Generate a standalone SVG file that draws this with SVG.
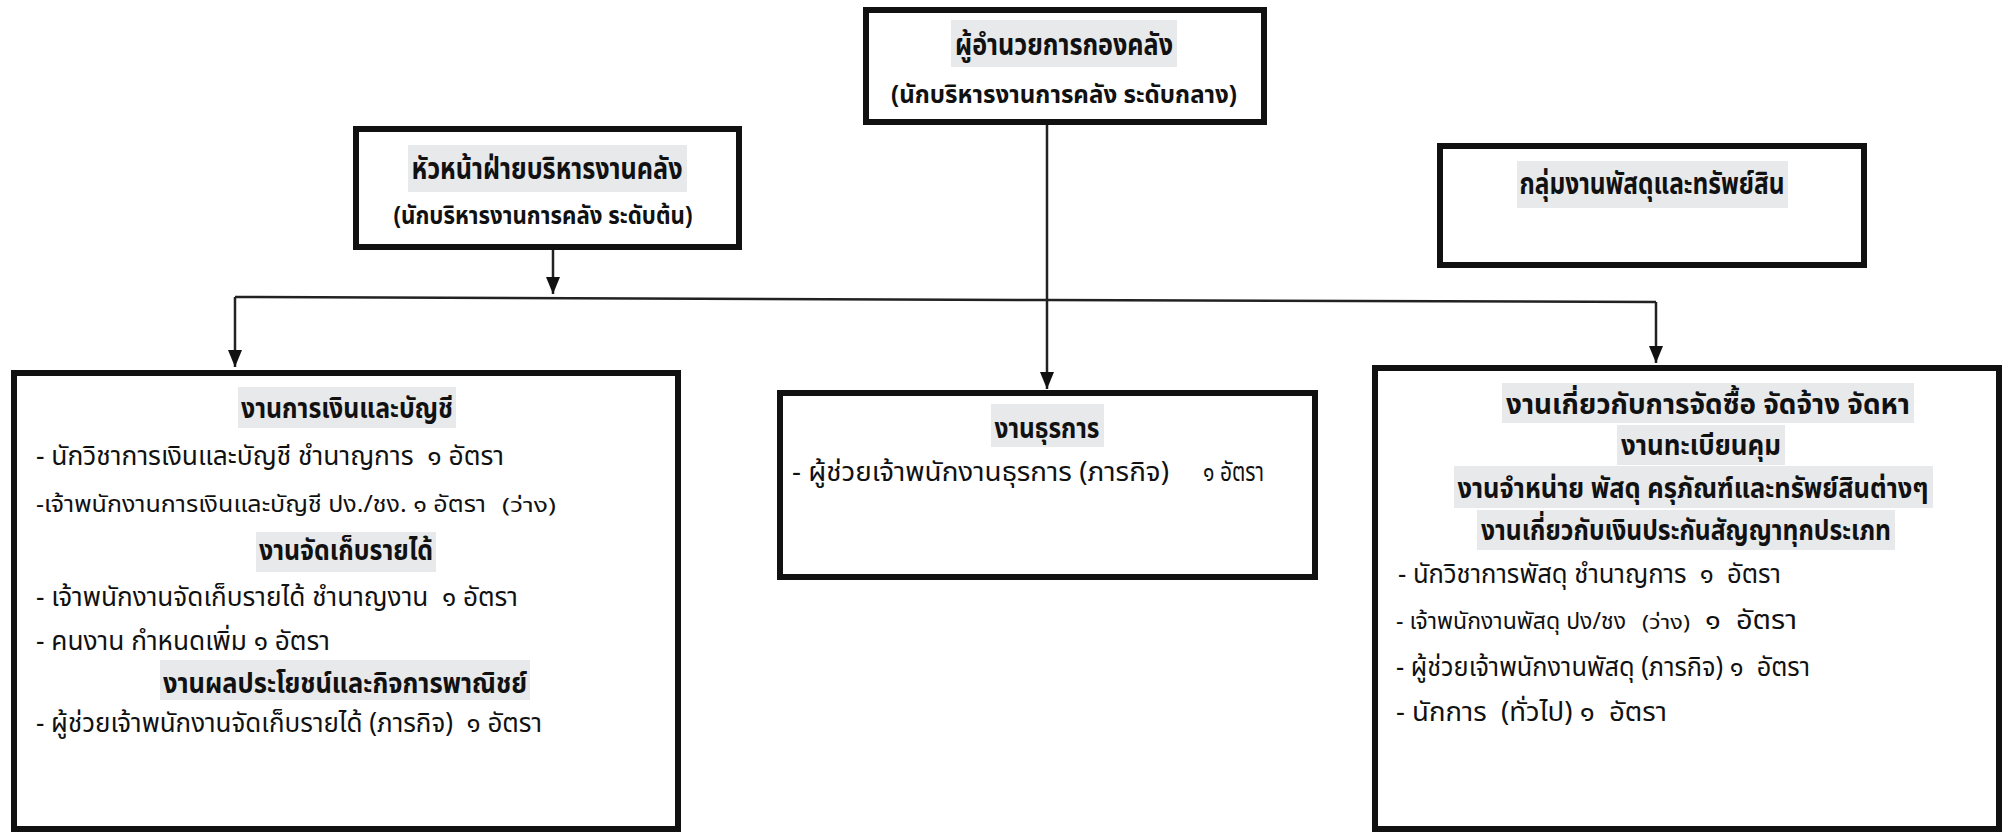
<svg xmlns="http://www.w3.org/2000/svg" width="2013" height="835" viewBox="0 0 2013 835">
<defs>
<style>
.box{fill:#fff;stroke:#111;stroke-width:6}
.hl{fill:#e7e9eb}
.t{font-family:"Noto Sans Thai","Tahoma","DejaVu Sans",sans-serif;fill:#111;white-space:pre}
.ttl{font-weight:bold;font-size:28px;text-anchor:middle}
.hd{font-weight:bold;font-size:30px;text-anchor:middle}
.sub{font-weight:bold;font-size:25px;text-anchor:middle}
.body{font-size:27px}
.nar{font-size:23px}
.sm{font-size:19px}
.con{fill:none;stroke:#222;stroke-width:2.5}
</style>
<marker id="arr" markerUnits="userSpaceOnUse" markerWidth="17" markerHeight="14" refX="17" refY="7" orient="auto">
<path d="M0,0 L17,7 L0,14 z" fill="#111"/>
</marker>
</defs>
<rect width="2013" height="835" fill="#fff"/>

<g id="connectors">
<line class="con" x1="1047" y1="125" x2="1047" y2="389" marker-end="url(#arr)"/>
<line class="con" x1="553" y1="250" x2="553" y2="294" marker-end="url(#arr)"/>
<polyline class="con" points="235,297 1047,300 1656,302"/>
<line class="con" x1="235" y1="297" x2="235" y2="367" marker-end="url(#arr)"/>
<line class="con" x1="1656" y1="302" x2="1656" y2="363" marker-end="url(#arr)"/>
</g>

<g id="n-director">
<rect class="box" x="866" y="10" width="398" height="112"/>
<rect class="hl" x="951" y="20" width="226" height="47"/>
<text class="t hd" x="1064" y="55" textLength="218" lengthAdjust="spacingAndGlyphs">ผู้อำนวยการกองคลัง</text>
<text class="t sub" x="1064" y="103" textLength="346" lengthAdjust="spacingAndGlyphs">(นักบริหารงานการคลัง ระดับกลาง)</text>
</g>

<g id="n-head">
<rect class="box" x="356" y="129" width="383" height="118"/>
<rect class="hl" x="408" y="145" width="279" height="47"/>
<text class="t hd" x="547" y="179" textLength="271" lengthAdjust="spacingAndGlyphs">หัวหน้าฝ่ายบริหารงานคลัง</text>
<text class="t sub" x="543" y="224" textLength="299" lengthAdjust="spacingAndGlyphs">(นักบริหารงานการคลัง ระดับต้น)</text>
</g>

<g id="n-supply-group">
<rect class="box" x="1440" y="146" width="424" height="119"/>
<rect class="hl" x="1517" y="161" width="271" height="47"/>
<text class="t hd" x="1652" y="194" textLength="265" lengthAdjust="spacingAndGlyphs">กลุ่มงานพัสดุและทรัพย์สิน</text>
</g>

<g id="n-finance">
<rect class="box" x="14" y="373" width="664" height="456"/>
<rect class="hl" x="238" y="387" width="218" height="41"/>
<text class="t ttl" x="347" y="418" textLength="212" lengthAdjust="spacingAndGlyphs">งานการเงินและบัญชี</text>
<text class="t body" x="36" y="465" textLength="468" lengthAdjust="spacingAndGlyphs">- นักวิชาการเงินและบัญชี ชำนาญการ  ๑ อัตรา</text>
<text class="t nar" x="36" y="512" textLength="450" lengthAdjust="spacingAndGlyphs">-เจ้าพนักงานการเงินและบัญชี ปง./ชง. ๑ อัตรา</text>
<text class="t sm" x="502" y="512" textLength="54" lengthAdjust="spacingAndGlyphs">(ว่าง)</text>
<rect class="hl" x="256" y="532" width="180" height="40"/>
<text class="t ttl" x="346" y="560" textLength="174" lengthAdjust="spacingAndGlyphs">งานจัดเก็บรายได้</text>
<text class="t body" x="36" y="606" textLength="482" lengthAdjust="spacingAndGlyphs">- เจ้าพนักงานจัดเก็บรายได้ ชำนาญงาน  ๑ อัตรา</text>
<text class="t body" x="36" y="650" textLength="294" lengthAdjust="spacingAndGlyphs">- คนงาน กำหนดเพิ่ม ๑ อัตรา</text>
<rect class="hl" x="160" y="660" width="370" height="40"/>
<text class="t ttl" x="345" y="693" textLength="364" lengthAdjust="spacingAndGlyphs">งานผลประโยชน์และกิจการพาณิชย์</text>
<text class="t body" x="36" y="732" textLength="506" lengthAdjust="spacingAndGlyphs">- ผู้ช่วยเจ้าพนักงานจัดเก็บรายได้ (ภารกิจ)  ๑ อัตรา</text>
</g>

<g id="n-admin">
<rect class="box" x="780" y="393" width="535" height="184"/>
<rect class="hl" x="991" y="404" width="113" height="43"/>
<text class="t ttl" x="1047" y="438" textLength="105" lengthAdjust="spacingAndGlyphs">งานธุรการ</text>
<text class="t body" x="792" y="481" textLength="377" lengthAdjust="spacingAndGlyphs">- ผู้ช่วยเจ้าพนักงานธุรการ (ภารกิจ)</text>
<text class="t body" x="1203" y="481" textLength="61" lengthAdjust="spacingAndGlyphs">๑ อัตรา</text>
</g>

<g id="n-procurement">
<rect class="box" x="1375" y="368" width="624" height="461"/>
<rect class="hl" x="1502" y="383" width="412" height="40"/>
<text class="t ttl" x="1708" y="414" textLength="404" lengthAdjust="spacingAndGlyphs">งานเกี่ยวกับการจัดซื้อ จัดจ้าง จัดหา</text>
<rect class="hl" x="1617" y="425" width="168" height="40"/>
<text class="t ttl" x="1701" y="455" textLength="160" lengthAdjust="spacingAndGlyphs">งานทะเบียนคุม</text>
<rect class="hl" x="1454" y="466" width="479" height="42"/>
<text class="t ttl" x="1693" y="498" textLength="471" lengthAdjust="spacingAndGlyphs">งานจำหน่าย พัสดุ ครุภัณฑ์และทรัพย์สินต่างๆ</text>
<rect class="hl" x="1477" y="510" width="418" height="40"/>
<text class="t ttl" x="1686" y="540" textLength="410" lengthAdjust="spacingAndGlyphs">งานเกี่ยวกับเงินประกันสัญญาทุกประเภท</text>
<text class="t body" x="1398" y="583" textLength="383" lengthAdjust="spacingAndGlyphs">- นักวิชาการพัสดุ ชำนาญการ  ๑  อัตรา</text>
<text class="t nar" x="1396" y="629" textLength="230" lengthAdjust="spacingAndGlyphs">- เจ้าพนักงานพัสดุ ปง/ชง</text>
<text class="t sm" x="1642" y="629" textLength="48" lengthAdjust="spacingAndGlyphs">(ว่าง)</text>
<text class="t body" x="1705" y="629" textLength="92" lengthAdjust="spacingAndGlyphs">๑  อัตรา</text>
<text class="t body" x="1396" y="676" textLength="414" lengthAdjust="spacingAndGlyphs">- ผู้ช่วยเจ้าพนักงานพัสดุ (ภารกิจ) ๑  อัตรา</text>
<text class="t body" x="1396" y="721" textLength="271" lengthAdjust="spacingAndGlyphs">- นักการ  (ทั่วไป) ๑  อัตรา</text>
</g>
</svg>
